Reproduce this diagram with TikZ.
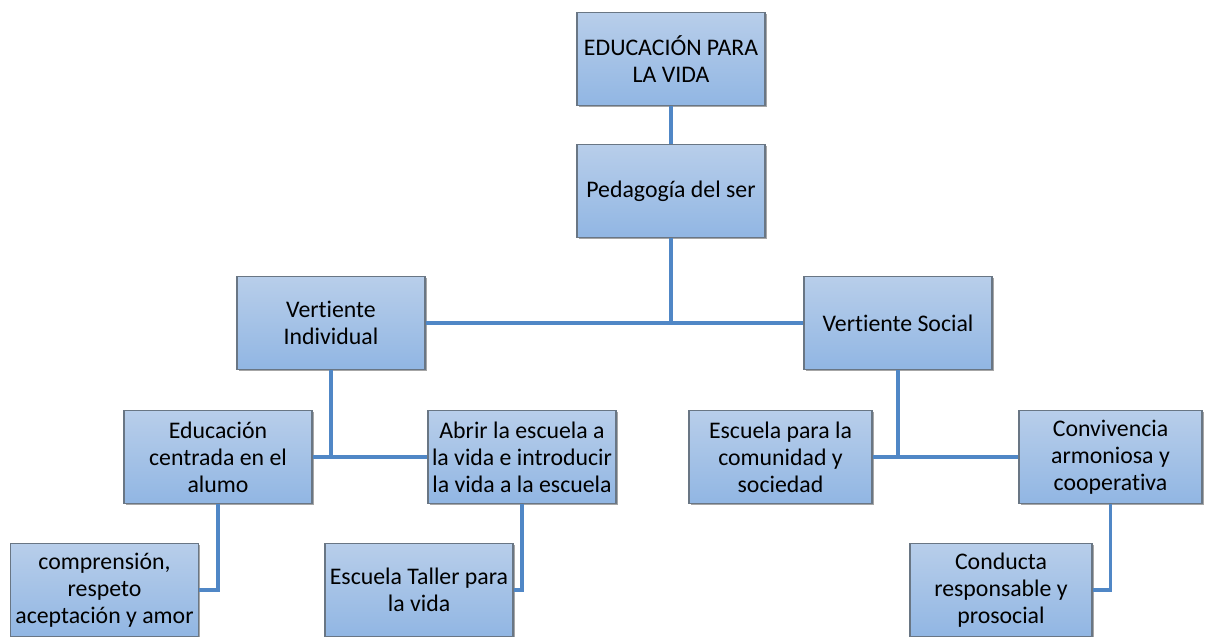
\documentclass[tikz,border=0pt]{standalone}
\usepackage{fontspec}
\setmainfont[Ligatures=NoCommon]{Carlito}
\usetikzlibrary{shadows}
\definecolor{boxtop}{RGB}{184,206,234}
\definecolor{boxbot}{RGB}{145,182,227}
\definecolor{boxedge}{RGB}{105,118,132}
\definecolor{link}{RGB}{80,135,198}
\tikzset{
  box/.style={draw=boxedge, line width=1.2pt, top color=boxtop, bottom color=boxbot,
    minimum width=188pt, minimum height=93pt, inner sep=0pt, align=center,
    font=\fontsize{23.8}{27}\selectfont,
    drop shadow={shadow xshift=1.5pt, shadow yshift=-1.5pt, opacity=0.35, fill=black}},
  conn/.style={draw=link, line width=3.2pt}
}
\begin{document}
\begin{tikzpicture}[x=1pt,y=-1pt]
\useasboundingbox (0,0) rectangle (1219,637);
\node[box] (edu) at (671,59) {EDUCACIÓN PARA\\LA VIDA};
\node[box] (ped) at (671,191) {Pedagogía del ser};
\node[box] (vi) at (331,323) {Vertiente\\Individual};
\node[box] (vs) at (898,323) {Vertiente Social};
\node[box] (ec) at (218,457) {Educación\\centrada en el\\alumo};
\node[box] (ab) at (522,457) {Abrir la escuela a\\la vida e introducir\\la vida a la escuela};
\node[box, minimum width=183pt] (ep) at (780.5,457) {Escuela para la\\comunidad y\\sociedad};
\node[box, minimum width=183pt] (cv) at (1110.5,457) {Convivencia\\armoniosa y\\cooperativa};
\node[box] (cr) at (104.5,590) {comprensión,\\respeto\\aceptación y amor};
\node[box] (et) at (419,590) {Escuela Taller para\\la vida};
\node[box, minimum width=182pt] (cd) at (1001,590) {Conducta\\responsable y\\prosocial};
\coordinate (j1) at (671,322);
\coordinate (j2) at (331,457);
\coordinate (j3) at (898,457);
\draw[conn] (edu.south) -- (ped.north);
\draw[conn] (ped.south) -- (j1);
\draw[conn] (vi.east) -- (vs.west);
\draw[conn] (vi.south) -- (j2);
\draw[conn] (ec.east) -- (ab.west);
\draw[conn] (vs.south) -- (j3);
\draw[conn] (ep.east) -- (cv.west);
\draw[conn] (ec.south) |- (cr.east);
\draw[conn] (ab.south) |- (et.east);
\draw[conn] (cv.south) |- (cd.east);
\end{tikzpicture}
\end{document}
